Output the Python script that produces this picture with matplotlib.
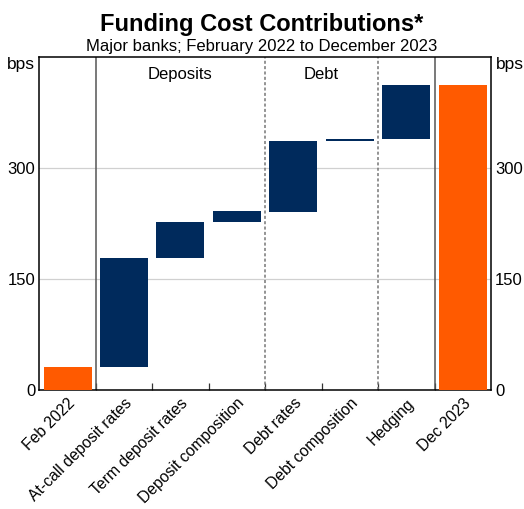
#!/usr/bin/env python3

import sys

import matplotlib
matplotlib.use("Agg")
from matplotlib import pyplot


CATEGORIES = [
    "Feb 2022", "At-call deposit rates", "Term deposit rates",
    "Deposit composition", "Debt rates", "Debt composition",
    "Hedging", "Dec 2023",
]
# bar bottoms and tops, bps
BOTTOMS = [0, 31, 178, 227, 241, 336, 339, 0]
TOPS = [31, 178, 227, 242, 336, 339, 412, 412]
IS_TOTAL = [True, False, False, False, False, False, False, True]

GROUP_LABELS = [("Deposits", 2.0), ("Debt", 4.5)]
Y_TICKS = [0, 150, 300]

ORANGE = "#ff5a00"
NAVY = "#002a5c"


def main() -> int:
    pyplot.rcParams["font.family"] = ["Liberation Sans", "DejaVu Sans"]
    figure = pyplot.figure(figsize=(5.24, 5.09), dpi=100)
    axes = figure.add_axes([39.3 / 524, 1 - 390 / 509, 451.7 / 524, 333 / 509])

    x = range(len(CATEGORIES))
    heights = [t - b for b, t in zip(BOTTOMS, TOPS)]
    colours = [ORANGE if tot else NAVY for tot in IS_TOTAL]
    axes.bar(x, heights, bottom=BOTTOMS, width=0.85, color=colours, zorder=3)

    axes.set_xlim(-0.5, len(CATEGORIES) - 0.5)
    axes.set_ylim(0, 450)

    # grid and separators
    for y in Y_TICKS[1:]:
        axes.axhline(y, color="#d0d0d0", lw=0.9, zorder=1)
    axes.axvline(0.5, color="#555555", lw=1.1, zorder=2)
    axes.axvline(6.5, color="#555555", lw=1.1, zorder=2)
    axes.axvline(3.5, color="#777777", lw=1.1, ls=(0, (2, 1.5)), zorder=2)
    axes.axvline(5.5, color="#777777", lw=1.1, ls=(0, (2, 1.5)), zorder=2)

    for label, xpos in GROUP_LABELS:
        axes.text(xpos, 427, label, ha="center", va="center", fontsize=12)

    # x ticks: labels at centres, small inward marks at boundaries
    axes.set_xticks(list(x))
    axes.set_xticklabels(CATEGORIES, rotation=45, ha="right",
                         rotation_mode="anchor", fontsize=11.3)
    axes.tick_params(axis="x", which="major", length=0, pad=4)
    axes.set_xticks([i + 0.5 for i in range(len(CATEGORIES) - 1)], minor=True)
    axes.tick_params(axis="x", which="minor", direction="in", length=5,
                     width=0.9, color="#333333")

    axes.set_yticks(Y_TICKS)
    axes.tick_params(axis="y", length=0, labelsize=12, pad=3,
                     labelright=True, right=False)

    for spine in axes.spines.values():
        spine.set_linewidth(1.1)

    axes.text(-0.01, 1.0, "bps", transform=axes.transAxes, ha="right",
              va="top", fontsize=12.5)
    axes.text(1.01, 1.0, "bps", transform=axes.transAxes, ha="left",
              va="top", fontsize=12.5)

    figure.text(0.5, 1 - 24 / 509, "Funding Cost Contributions*",
                ha="center", va="center", fontsize=17, fontweight="bold")
    figure.text(0.5, 1 - 47 / 509, "Major banks; February 2022 to December 2023",
                ha="center", va="center", fontsize=12)

    figure.savefig("out.png", dpi=100)
    return 0


if __name__ == '__main__':
    sys.exit(main())
